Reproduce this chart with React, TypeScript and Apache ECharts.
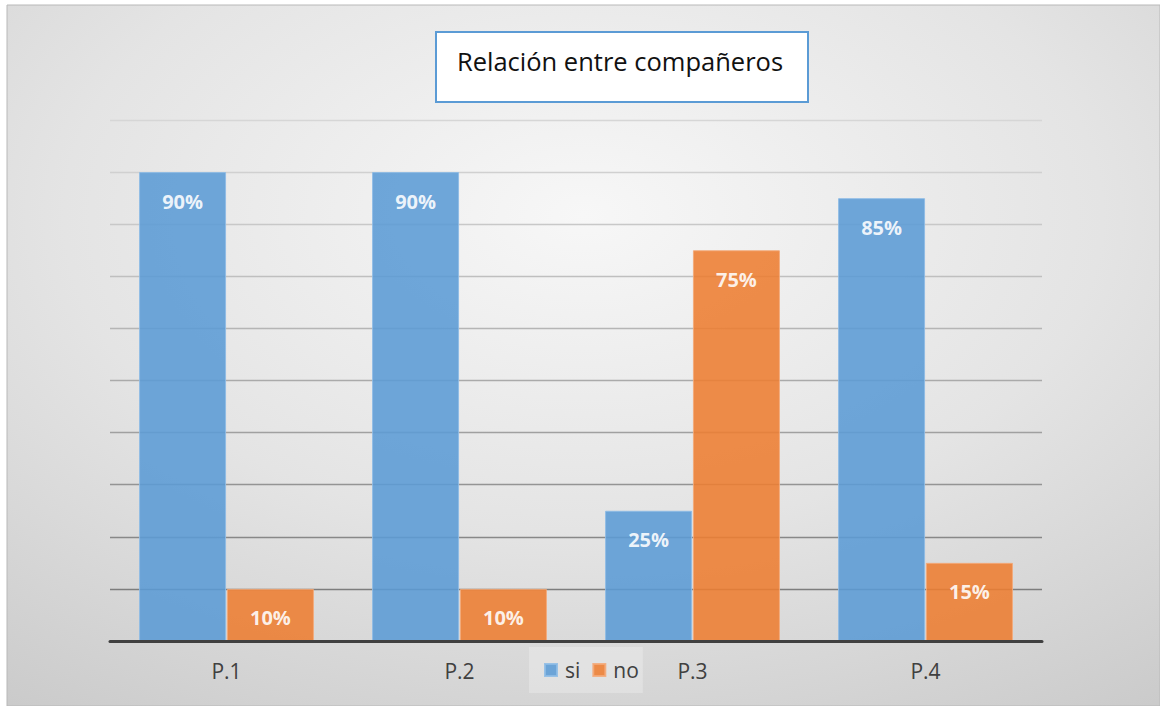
import React, { useEffect, useRef } from "react";
import * as echarts from "echarts";

const titleText = "Relación entre compañeros";
const categories = ["P.1", "P.2", "P.3", "P.4"];
const siValues = [90, 90, 25, 85];
const noValues = [10, 10, 75, 15];
const seriesNames = ["si", "no"];

export default function App() {
  const ref = useRef<HTMLDivElement>(null);
  useEffect(() => {
    document.body.style.margin = "0";
    const chart = echarts.init(ref.current!, undefined, { renderer: "svg" });
    const font = "'Open Sans', 'Noto Sans', sans-serif";
    const gridColors = [
      "#404040", "#7d7d7d", "#888888", "#949494", "#a0a0a0", "#aaaaaa",
      "#b5b5b5", "#bfbfbf", "#c8c8c8", "#d0d0d0", "#d6d6d6",
    ];
    const label = {
      show: true,
      position: "insideTop" as const,
      distance: 19,
      formatter: "{c}%",
      color: "#ffffff",
      fontWeight: "bold" as const,
      fontSize: 20,
      fontFamily: font,
    };
    chart.setOption({
      animation: false,
      graphic: [
        {
          type: "rect",
          z: -10,
          silent: true,
          shape: { x: 7, y: 5, width: 1153, height: 701 },
          style: {
            fill: new echarts.graphic.RadialGradient(0.5, 0.3, 1.0, [
              { offset: 0, color: "#f7f7f7" },
              { offset: 0.45, color: "#e4e4e4" },
              { offset: 1, color: "#c2c2c2" },
            ]),
            stroke: "#b8b8b8",
            lineWidth: 1,
          },
        },
        {
          type: "rect",
          z: 10,
          shape: { x: 436, y: 32, width: 372, height: 70 },
          style: { fill: "#ffffff", stroke: "#5b9bd5", lineWidth: 2 },
        },
        {
          type: "text",
          z: 11,
          x: 620,
          y: 61,
          style: {
            text: titleText,
            fill: "#111111",
            font: `25.5px ${font}`,
            align: "center",
            verticalAlign: "middle",
          },
        },
      ],
      legend: {
        data: seriesNames,
        left: 529,
        top: 647,
        padding: [12, 4, 12, 15],
        backgroundColor: "rgba(255,255,255,0.25)",
        itemWidth: 12,
        itemHeight: 12,
        itemGap: 12,
        icon: "rect",
        textStyle: {
          color: "#404040",
          fontSize: 21,
          fontFamily: font,
          lineHeight: 22,
          padding: [0, 0, 0, 3],
        },
      },
      grid: { left: 110, right: 118, top: 120, bottom: 65 },
      xAxis: {
        type: "category",
        data: categories,
        axisLine: { show: true, lineStyle: { color: "#404040", width: 3 } },
        axisTick: { show: false },
        axisLabel: { color: "#404040", fontSize: 21, fontFamily: font, margin: 19 },
        z: 5,
      },
      yAxis: {
        type: "value",
        min: 0,
        max: 100,
        interval: 10,
        axisLabel: { show: false },
        axisLine: { show: false },
        axisTick: { show: false },
        splitLine: { show: true, lineStyle: { color: gridColors, width: 1.3 } },
      },
      series: [
        {
          name: seriesNames[0],
          type: "bar",
          data: siValues,
          barWidth: 87,
          barGap: "1%",
          itemStyle: { color: "#5b9bd5", opacity: 0.88, borderColor: "#8dbce6", borderWidth: 1 },
          label,
        },
        {
          name: seriesNames[1],
          type: "bar",
          data: noValues,
          barWidth: 87,
          itemStyle: { color: "#ed7d31", opacity: 0.88, borderColor: "#f4a878", borderWidth: 1 },
          label,
        },
      ],
    });
    return () => chart.dispose();
  }, []);
  return <div ref={ref} style={{ width: 1160, height: 706 }} />;
}
